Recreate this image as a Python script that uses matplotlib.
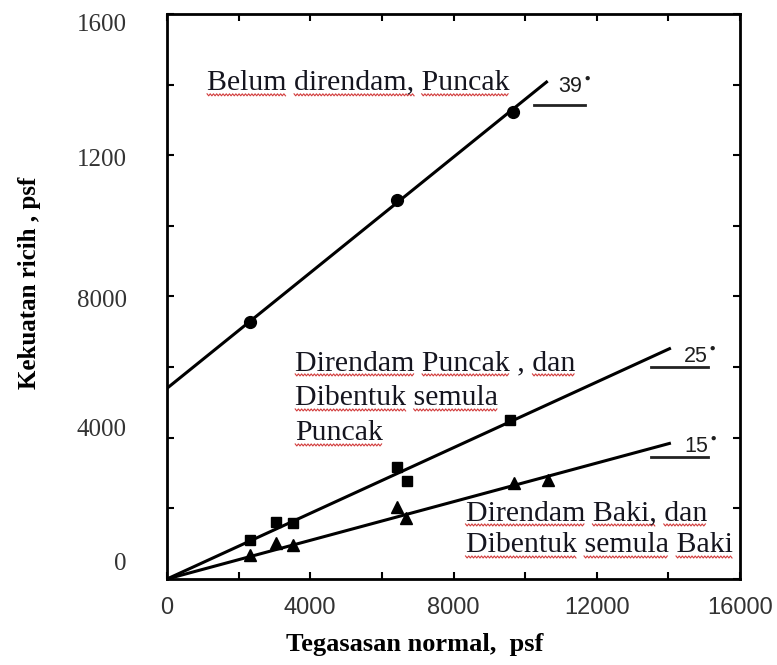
import numpy as np
import matplotlib
matplotlib.use('Agg')
import matplotlib.pyplot as plt
import matplotlib.transforms as mtransforms
from matplotlib.font_manager import FontProperties

# nilai (psf)
belum_x = [2320, 6430, 9650]
belum_y = [7280, 10740, 13230]
puncak_x = [2320, 3050, 3520, 6410, 6690, 9590]
puncak_y = [1100, 1610, 1590, 3170, 2780, 4500]
baki_x = [2320, 3050, 3520, 6430, 6660, 9680, 10630]
baki_y = [680, 1020, 960, 2040, 1730, 2720, 2800]

# garis lurus (hujung)
garis39_x = [0, 10630]
garis39_y = [5400, 14100]
garis25_x = [0, 14070]
garis25_y = [0, 6540]
garis15_x = [0, 14070]
garis15_y = [0, 3850]

sudut = ['39', '25', '15']

xticks = [0, 4000, 8000, 12000, 16000]
xticklabels = ['0', '4000', '8000', '12000', '16000']
yticks = [0, 4000, 8000, 12000, 16000]
yticklabels = ['0', '4000', '8000', '1200', '1600']

serif = 'Liberation Serif'
ink = '#15151f'

fig = plt.figure(figsize=(7.77, 6.65), dpi=100)
ax = fig.add_axes([167/777, 1-579/665, 573/777, 565/665])

ax.plot(garis39_x, garis39_y, color='black', lw=2.2, solid_capstyle='butt')
ax.plot(garis25_x, garis25_y, color='black', lw=2.2, solid_capstyle='butt')
ax.plot(garis15_x, garis15_y, color='black', lw=2.2, solid_capstyle='butt')
ax.plot(belum_x, belum_y, 'o', color='black', ms=8.5)
ax.plot(puncak_x, puncak_y, 's', color='black', ms=7)
ax.plot(baki_x, baki_y, '^', color='black', ms=8.5)

ax.set_xlim(0, 16000)
ax.set_ylim(0, 16000)
ax.set_xticks(xticks)
ax.set_xticklabels(xticklabels, fontsize=17, family='Liberation Sans', color='#333333')
ax.set_yticks(yticks)
ax.set_yticklabels(yticklabels, fontsize=18, family=serif, color='#333333')
ax.set_xticks(np.arange(0, 16001, 2000), minor=True)
ax.set_yticks(np.arange(0, 16001, 2000), minor=True)
ax.tick_params(which='both', direction='in', length=5, width=1.5, top=True, right=True)
ax.tick_params(axis='x', which='major', pad=13)
ax.tick_params(axis='y', which='major', pad=29)
for s in ax.spines.values():
    s.set_linewidth(2)

# label y dalam gambar asal tidak tepat pada tanda
geser = [17, 10, -2, -2, -9]
for lab, dy in zip(ax.get_yticklabels(), geser):
    lab.set_transform(lab.get_transform() +
                      mtransforms.ScaledTranslation(0, dy / 100, fig.dpi_scale_trans))

# label sudut bergaris bawah
sudut_pos = [(10909, 13768), (14406, 6119), (14434, 3570)]
garis_bawah = [(10238, 11664, 13428), (13510, 15105, 6006), (13510, 15105, 3456)]
for lab, (tx, ty), (u0, u1, uy) in zip(sudut, sudut_pos, garis_bawah):
    ax.text(tx, ty, lab + r'$^{\bullet}$', fontsize=15.5, family='Liberation Sans',
            color='#1e1e1e', va='baseline', ha='left')
    ax.plot([u0, u1], [uy, uy], color='#222222', lw=2)

# teks keterangan, satu baris satu teks
baris = [
    ('Belum direndam, Puncak', 1119, 13853),
    ('Direndam Puncak , dan', 3580, 5921),
    ('Dibentuk semula', 3580, 4929),
    ('Puncak', 3580, 3938),
    ('Direndam Baki, dan', 8336, 1672),
    ('Dibentuk semula Baki', 8336, 765),
]
fp = FontProperties(family=serif, size=21.5)
for s, x, y in baris:
    ax.text(x, y, s, fontproperties=fp, color=ink, va='baseline')

fig.text(415/777, 1-645/665, 'Tegasasan normal,  psf', family=serif, fontsize=19,
         weight='bold', ha='center', va='center')
fig.text(30/777, 1-283/665, 'Kekuatan ricih , psf', family=serif, fontsize=18,
         weight='bold', rotation=90, ha='center', va='center')

# garis merah bergelombang (semakan ejaan) di bawah setiap perkataan
fig.canvas.draw()
r = fig.canvas.get_renderer()
def lebar(t):
    return r.get_text_width_height_descent(t, fp, ismath=False)[0]
for s, x, y in baris:
    x0, y0 = ax.transData.transform((x, y))
    pos = 0
    for w in s.split(' '):
        i = s.index(w, pos)
        pos = i + len(w)
        if w == ',':
            continue
        xe = x0 + lebar(s[:pos])
        xs = xe - lebar(w)
        zx = np.arange(xs, xe, 1.6)
        zy = y0 - 5 + np.where(np.arange(len(zx)) % 2 == 0, 1.0, -1.0)
        ax.plot(zx, zy, color='#d23c3c', lw=0.8, transform=mtransforms.IdentityTransform(),
                clip_on=False)

fig.savefig('out.png', dpi=100)
